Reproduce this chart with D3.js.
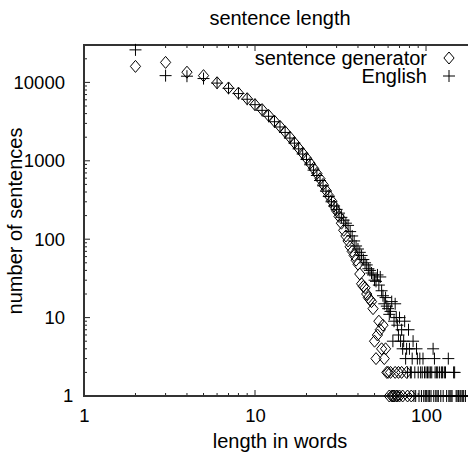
<!DOCTYPE html>
<html><head><meta charset="utf-8">
<script src="https://cdn.jsdelivr.net/npm/d3@7"></script>
<style>body{margin:0;background:#fff;}svg text{font-family:"Liberation Sans",Arial,Helvetica,sans-serif;fill:#000;}</style>
</head><body>
<svg id="c" width="468" height="452"></svg>
<script>
const title = "sentence length";
const xLabel = "length in words";
const yLabel = "number of sentences";
const seriesNames = ["sentence generator", "English"];
const xTicks = [1, 10, 100];
const yTicks = [1, 10, 100, 1000, 10000];

const genLen = [2,3,4,5,6,7,8,9,10,11,12,13,14,15,16,17,18,19,20,21,22,23,24,25,26,27,28,29,30,31,32,33,34,35,36,37,38,39,40,41,42,43,44,45,46,47,48,49,50,51,52,53,54,55,56,57,58,59,60,61,62,63,64,65,66,67,68,69,70,72,73,77,78,82];
const genCount = [16000,18000,13500,12200,9900,8500,7300,6200,5200,4500,3800,3200,2750,2350,2000,1700,1450,1250,1080,930,800,690,590,500,420,360,310,265,230,195,160,130,110,95,80,70,62,54,48,36,27,25,24,20,18,17,16,13,5,3,6,9,7,4,8,3,4,2,2,1,2,1,1,1,2,1,1,2,1,2,1,2,1,1];

const engLen = [2,3,4,5,6,7,8,9,10,11,12,13,14,15,16,17,18,19,20,21,22,23,24,25,26,27,28,29,30,31,32,33,34,35,36,37,38,39,40,41,42,43,44,45,46,47,48,49,50,51,52,53,54,55,56,57,58,59,60,61,62,63,64,65,66,67,68,69,70,71,72,73,74,75,76,77,78,79,80,81,82,83,84,85,86,87,88,89,90,91,92,93,94,95,96,97,98,99,100,101,102,103,104,105,106,107,108,110,111,112,113,114,115,116,117,118,120,122,123,125,126,128,130,132,135,136,138,140,142,145,147,150,152,155,158,160,163,166,170];
const engCount = [26000,12200,12000,11200,9800,8400,7200,6100,5200,4400,3700,3150,2700,2300,1950,1680,1420,1220,1040,890,760,650,560,480,410,350,300,265,240,215,190,175,160,150,125,110,95,82,75,68,62,55,50,47,42,40,37,35,30,29,35,26,33,22,19,15,18,14,13,11,12,16,5,9,15,10,8,6,10,5,7,4,5,9,3,4,2,7,4,2,2,3,5,1,2,1,4,3,2,1,3,2,1,2,3,1,2,1,2,1,2,1,2,1,2,1,2,4,1,3,2,1,2,1,2,1,2,1,2,2,1,2,2,1,3,1,1,1,1,2,2,1,1,1,1,1,1,1,1];

const svg = d3.select("#c");
const L = 84, R = 477.5, T = 45, B = 396;
const x = d3.scaleLog().domain([1, 200]).range([L, R]);
const y = d3.scaleLog().domain([1, 30000]).range([B, T]);
const FS = 20, TFS = 18.5;

// title
svg.append("text").attr("x", 280).attr("y", 25).attr("text-anchor", "middle")
  .style("font-size", FS + "px").text(title);

// minor ticks
const xMinor = [];
for (let d = 1; d <= 100; d *= 10) for (let k = 2; k <= 9; k++) if (d * k <= 200) xMinor.push(d * k);
const yMinor = [];
for (let d = 1; d <= 10000; d *= 10) for (let k = 2; k <= 9; k++) if (d * k <= 30000) yMinor.push(d * k);

const g = svg.append("g").attr("stroke", "#222").attr("stroke-width", 1);
xMinor.forEach(v => {
  g.append("line").attr("x1", x(v)).attr("x2", x(v)).attr("y1", B).attr("y2", B - 3);
  g.append("line").attr("x1", x(v)).attr("x2", x(v)).attr("y1", T).attr("y2", T + 3);
});
xTicks.forEach(v => {
  g.append("line").attr("x1", x(v)).attr("x2", x(v)).attr("y1", B).attr("y2", B - 6);
  g.append("line").attr("x1", x(v)).attr("x2", x(v)).attr("y1", T).attr("y2", T + 6);
});
yMinor.forEach(v => {
  g.append("line").attr("x1", L).attr("x2", L + 3).attr("y1", y(v)).attr("y2", y(v));
});
yTicks.forEach(v => {
  g.append("line").attr("x1", L).attr("x2", L + 6).attr("y1", y(v)).attr("y2", y(v));
});

// frame
svg.append("rect").attr("x", L).attr("y", T).attr("width", R - L).attr("height", B - T)
  .attr("fill", "none").attr("stroke", "#333").attr("stroke-width", 2);

// tick labels
const fmt = d3.format("d");
const xAxis = d3.axisBottom(x).tickValues(xTicks).tickFormat(fmt).tickSize(0).tickPadding(13);
const xa = svg.append("g").attr("transform", `translate(0,${B})`).call(xAxis);
xa.select(".domain").remove();
xa.selectAll("text").style("font-size", TFS + "px").attr("fill", "#000");
const yAxis = d3.axisLeft(y).tickValues(yTicks).tickFormat(fmt).tickSize(0).tickPadding(19);
const ya = svg.append("g").attr("transform", `translate(${L},0)`).call(yAxis);
ya.select(".domain").remove();
ya.selectAll("text").style("font-size", TFS + "px").attr("fill", "#000");
ya.selectAll(".tick").filter(d => d === 1).select("text").attr("dx", "0.45em");

// axis labels
svg.append("text").attr("x", 280).attr("y", 448).attr("text-anchor", "middle")
  .style("font-size", FS + "px").text(xLabel);
svg.append("text").attr("transform", "translate(22,221) rotate(-90)").attr("text-anchor", "middle")
  .style("font-size", FS + "px").text(yLabel);

// markers
const diamond = (cx, cy, s) => `M${cx},${cy - s}L${cx + s * 0.85},${cy}L${cx},${cy + s}L${cx - s * 0.85},${cy}Z`;
const plus = (cx, cy, s) => `M${cx - s},${cy}H${cx + s}M${cx},${cy - s}V${cy + s}`;

const data = svg.append("g");
data.selectAll("path.gen").data(genLen.map((l, i) => [l, genCount[i]])).enter()
  .append("path").attr("class", "gen")
  .attr("d", d => diamond(x(d[0]), y(d[1]), 6))
  .attr("fill", "none").attr("stroke", "#000").attr("stroke-width", 1);
data.selectAll("path.eng").data(engLen.map((l, i) => [l, engCount[i]])).enter()
  .append("path").attr("class", "eng")
  .attr("d", d => plus(x(d[0]), y(d[1]), 6))
  .attr("fill", "none").attr("stroke", "#000").attr("stroke-width", 1);

// legend
svg.append("text").attr("x", 427).attr("y", 65).attr("text-anchor", "end")
  .style("font-size", FS + "px").text(seriesNames[0]);
svg.append("text").attr("x", 427).attr("y", 83).attr("text-anchor", "end")
  .style("font-size", FS + "px").text(seriesNames[1]);
svg.append("path").attr("d", diamond(449, 58, 6)).attr("fill", "none").attr("stroke", "#000");
svg.append("path").attr("d", plus(449, 76, 6)).attr("fill", "none").attr("stroke", "#000");
</script>
</body></html>
